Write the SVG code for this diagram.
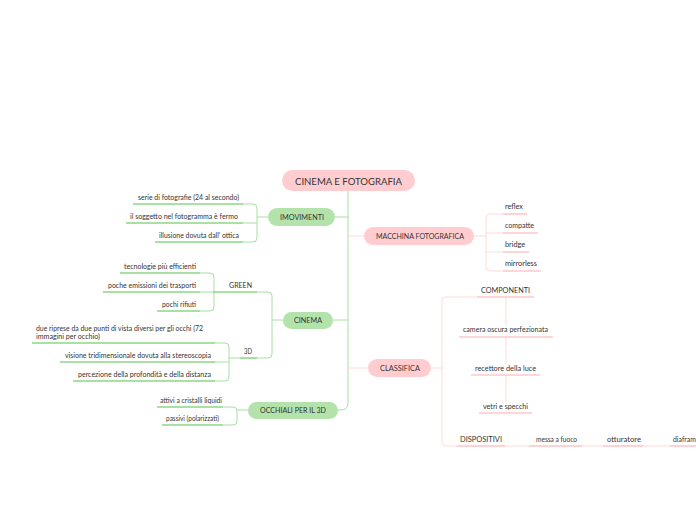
<svg xmlns="http://www.w3.org/2000/svg" width="696" height="520" viewBox="0 0 696 520">
<style>
text{font-family:"Lato","Liberation Sans",sans-serif;fill:#333;font-size:7px;}
.pt{font-size:7.5px;}
.rt{font-size:9.5px;}
.gp{fill:#b3e3ab;}
.pp{fill:#ffcdd0;}
.gc{fill:none;stroke:#a6e0a0;stroke-width:1;}
.pc{fill:none;stroke:#ffd9da;stroke-width:1;}
.gu{fill:none;stroke:#8cd786;stroke-width:1.6;}
.pu{fill:none;stroke:#ffc9ca;stroke-width:1.6;}
</style>
<rect width="696" height="520" fill="#ffffff"/>
<g id="connectors">
<path class="gc" d="M348,191 V403 Q348,410 341,410 H338"/>
<path class="gc" d="M335,217 H348"/>
<path class="gc" d="M333,320 H348"/>
<path class="pc" d="M348,236 H364"/>
<path class="pc" d="M348,368 H368"/>
<path class="gc" d="M268,217 H257"/>
<path class="gc" d="M243,204 H253 Q257,204 257,208 V238 Q257,242 253,242 H243"/>
<path class="gc" d="M243,223 H257"/>
<path class="gc" d="M283,320 H272"/>
<path class="gc" d="M257,292 H268 Q272,292 272,296 V354 Q272,358 268,358 H257"/>
<path class="gc" d="M200,273 H210 Q214,273 214,277 V307 Q214,311 210,311 H200"/>
<path class="gc" d="M200,292 H213"/>
<path class="gc" d="M215,343 H225 Q229,343 229,347 V377 Q229,381 225,381 H215"/>
<path class="gc" d="M215,362 H229"/>
<path class="gc" d="M229,358 H240"/>
<path class="gc" d="M223,407 H233 Q237,407 237,411 V421 Q237,425 233,425 H223"/>
<path class="gc" d="M237,410 H248"/>
<path class="pc" d="M474,236 H486"/>
<path class="pc" d="M503,214 H490 Q486,214 486,218 V267 Q486,271 490,271 H503"/>
<path class="pc" d="M486,233 H503 M486,252 H503"/>
<path class="pc" d="M431,368 H442"/>
<path class="pc" d="M477,297 H446 Q442,297 442,301 V442 Q442,446 446,446 H700"/>
<path class="pc" d="M506,297 V326 M506,337 V364 M506,375 V402"/>
</g>
<g id="root"><rect class="pp" x="282" y="170" width="133" height="21" rx="10.5"/><text class="rt" x="295" y="184.5" textLength="107" lengthAdjust="spacingAndGlyphs">CINEMA E FOTOGRAFIA</text></g>
<g id="imovimenti"><rect class="gp" x="268" y="208" width="67" height="18" rx="9"/><text class="pt" x="280" y="220" textLength="44" lengthAdjust="spacingAndGlyphs">IMOVIMENTI</text></g>
<g id="serie"><path class="gu" d="M133,204 H243"/><text x="138" y="199.5" textLength="101" lengthAdjust="spacingAndGlyphs">serie di fotografie (24 al secondo)</text></g>
<g id="soggetto"><path class="gu" d="M126,223 H243"/><text x="130" y="218.5" textLength="108" lengthAdjust="spacingAndGlyphs">il soggetto nel fotogramma è fermo</text></g>
<g id="illusione"><path class="gu" d="M155,242 H243"/><text x="159" y="237.5" textLength="80" lengthAdjust="spacingAndGlyphs">illusione dovuta dall' ottica</text></g>
<g id="cinema"><rect class="gp" x="283" y="312" width="50" height="17" rx="8.5"/><text class="pt" x="294" y="323" textLength="28" lengthAdjust="spacingAndGlyphs">CINEMA</text></g>
<g id="green"><path class="gu" d="M213,292 H257"/><text x="229" y="287.5" textLength="23" lengthAdjust="spacingAndGlyphs">GREEN</text></g>
<g id="tecnologie"><path class="gu" d="M120,273 H200"/><text x="124" y="268.5" textLength="72" lengthAdjust="spacingAndGlyphs">tecnologie più efficienti</text></g>
<g id="emissioni"><path class="gu" d="M103,292 H200"/><text x="108" y="287.5" textLength="88" lengthAdjust="spacingAndGlyphs">poche emissioni dei trasporti</text></g>
<g id="rifiuti"><path class="gu" d="M157,311 H200"/><text x="162" y="306.5" textLength="34" lengthAdjust="spacingAndGlyphs">pochi rifiuti</text></g>
<g id="tre-d"><path class="gu" d="M240,358 H257"/><text x="244" y="353.5" textLength="8" lengthAdjust="spacingAndGlyphs">3D</text></g>
<g id="riprese"><path class="gu" d="M32,343 H215"/><text x="36" y="331" textLength="167" lengthAdjust="spacingAndGlyphs">due riprese da due punti di vista diversi per gli occhi (72</text><text x="36" y="338.5" textLength="64" lengthAdjust="spacingAndGlyphs">immagini per occhio)</text></g>
<g id="visione"><path class="gu" d="M60,362 H215"/><text x="65" y="357.5" textLength="146" lengthAdjust="spacingAndGlyphs">visione tridimensionale dovuta alla stereoscopia</text></g>
<g id="percezione"><path class="gu" d="M73,381 H215"/><text x="78" y="376.5" textLength="133" lengthAdjust="spacingAndGlyphs">percezione della profondità e della distanza</text></g>
<g id="occhiali"><rect class="gp" x="248" y="402" width="90" height="17" rx="8.5"/><text class="pt" x="260" y="413" textLength="66" lengthAdjust="spacingAndGlyphs">OCCHIALI PER IL 3D</text></g>
<g id="attivi"><path class="gu" d="M157,407 H223"/><text x="160" y="402.5" textLength="62" lengthAdjust="spacingAndGlyphs">attivi a cristalli liquidi</text></g>
<g id="passivi"><path class="gu" d="M162,425 H223"/><text x="166" y="420.5" textLength="53" lengthAdjust="spacingAndGlyphs">passivi (polarizzati)</text></g>
<g id="macchina"><rect class="pp" x="364" y="227" width="110" height="18" rx="9"/><text class="pt" x="376" y="239" textLength="88" lengthAdjust="spacingAndGlyphs">MACCHINA FOTOGRAFICA</text></g>
<g id="reflex"><path class="pu" d="M503,214 H527"/><text x="505" y="208.5" textLength="18" lengthAdjust="spacingAndGlyphs">reflex</text></g>
<g id="compatte"><path class="pu" d="M503,233 H538"/><text x="505" y="227.5" textLength="29" lengthAdjust="spacingAndGlyphs">compatte</text></g>
<g id="bridge"><path class="pu" d="M503,252 H529"/><text x="505" y="246.5" textLength="20" lengthAdjust="spacingAndGlyphs">bridge</text></g>
<g id="mirrorless"><path class="pu" d="M503,271 H541"/><text x="505" y="265.5" textLength="32" lengthAdjust="spacingAndGlyphs">mirrorless</text></g>
<g id="classifica"><rect class="pp" x="368" y="359" width="63" height="18" rx="9"/><text class="pt" x="380" y="371" textLength="40" lengthAdjust="spacingAndGlyphs">CLASSIFICA</text></g>
<g id="componenti"><path class="pu" d="M477,297 H534"/><text x="481" y="292.5" textLength="49" lengthAdjust="spacingAndGlyphs">COMPONENTI</text></g>
<g id="camera"><path class="pu" d="M459,337 H553"/><text x="463" y="332" textLength="85" lengthAdjust="spacingAndGlyphs">camera oscura perfezionata</text></g>
<g id="recettore"><path class="pu" d="M471,375 H540"/><text x="475" y="370.5" textLength="61" lengthAdjust="spacingAndGlyphs">recettore della luce</text></g>
<g id="vetri"><path class="pu" d="M479,413 H532"/><text x="483" y="408.5" textLength="45" lengthAdjust="spacingAndGlyphs">vetri e specchi</text></g>
<g id="dispositivi"><path class="pu" d="M457,446 H505"/><text x="460" y="441.5" textLength="42" lengthAdjust="spacingAndGlyphs">DISPOSITIVI</text></g>
<g id="messa"><path class="pu" d="M529,446 H582"/><text x="536" y="441.5" textLength="41" lengthAdjust="spacingAndGlyphs">messa a fuoco</text></g>
<g id="otturatore"><path class="pu" d="M603,446 H643"/><text x="607" y="441.5" textLength="34" lengthAdjust="spacingAndGlyphs">otturatore</text></g>
<g id="diaframma"><path class="pu" d="M670,446 H710"/><text x="673" y="441.5" textLength="32" lengthAdjust="spacingAndGlyphs">diaframma</text></g>
</svg>
